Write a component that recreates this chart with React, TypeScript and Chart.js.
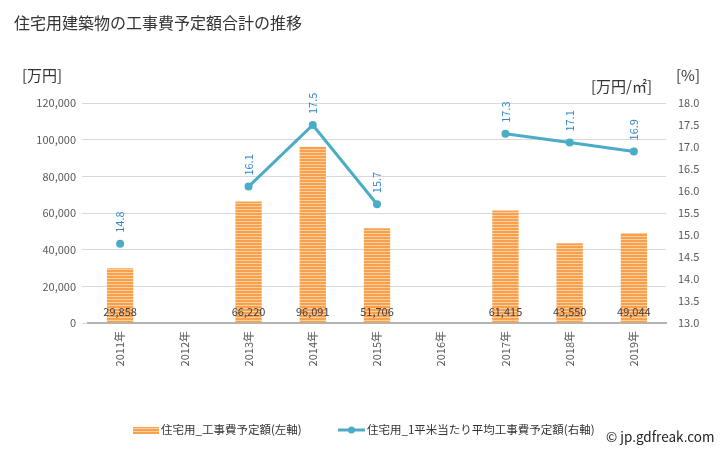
import React, { useEffect, useRef } from "react";
import { Chart, registerables } from "chart.js";

Chart.register(...registerables);

const categories = ["2011年", "2012年", "2013年", "2014年", "2015年", "2016年", "2017年", "2018年", "2019年"];
const costValues: (number | null)[] = [29858, null, 66220, 96091, 51706, null, 61415, 43550, 49044];
const perSqmValues: (number | null)[] = [14.8, null, 16.1, 17.5, 15.7, null, 17.3, 17.1, 16.9];
const leftTicks = [0, 20000, 40000, 60000, 80000, 100000, 120000];
const rightTicks = [13.0, 13.5, 14.0, 14.5, 15.0, 15.5, 16.0, 16.5, 17.0, 17.5, 18.0];

const titleText = "住宅用建築物の工事費予定額合計の推移";
const leftUnit = "[万円]";
const rightUnit1 = "[万円/㎡]";
const rightUnit2 = "[%]";
const barLegend = "住宅用_工事費予定額(左軸)";
const lineLegend = "住宅用_1平米当たり平均工事費予定額(右軸)";
const credit = "© jp.gdfreak.com";

const FONT = '"Noto Sans CJK JP", "Noto Sans", sans-serif';
const LINE_COLOR = "#4bacc6";
const LABEL_BLUE = "#2e86c8";

function makeStripe(): CanvasPattern | string {
  const c = document.createElement("canvas");
  c.width = 4;
  c.height = 3;
  const g = c.getContext("2d");
  if (!g) return "#f79646";
  g.fillStyle = "#f9a04e";
  g.fillRect(0, 0, 4, 2);
  g.fillStyle = "#fdd0a0";
  g.fillRect(0, 2, 4, 1);
  const p = g.createPattern(c, "repeat");
  return p || "#f79646";
}

export default function App() {
  const ref = useRef<HTMLCanvasElement | null>(null);

  useEffect(() => {
    if (!ref.current) return;
    const stripe = makeStripe();

    const decor = {
      id: "decor",
      afterDatasetsDraw(chart: any) {
        const ctx = chart.ctx as CanvasRenderingContext2D;
        const x = chart.scales.x;
        const yL = chart.scales.yL;
        const yR = chart.scales.yR;
        ctx.save();
        ctx.font = `11px ${FONT}`;
        ctx.fillStyle = "#404040";
        ctx.textAlign = "center";
        ctx.textBaseline = "middle";
        costValues.forEach((v, i) => {
          if (v == null) return;
          const px = x.getPixelForValue(i);
          ctx.fillText(v.toLocaleString("en-US"), px, yL.getPixelForValue(0) - 11);
        });
        ctx.fillStyle = LABEL_BLUE;
        ctx.font = `11px ${FONT}`;
        perSqmValues.forEach((v, i) => {
          if (v == null) return;
          const px = x.getPixelForValue(i);
          const py = yR.getPixelForValue(v);
          ctx.save();
          ctx.translate(px, py - 11);
          ctx.rotate(-Math.PI / 2);
          ctx.textAlign = "left";
          ctx.textBaseline = "middle";
          ctx.fillText(v.toFixed(1), 0, 0);
          ctx.restore();
        });
        ctx.restore();
      },
      afterDraw(chart: any) {
        const ctx = chart.ctx as CanvasRenderingContext2D;
        ctx.save();
        ctx.fillStyle = "#333333";
        ctx.textBaseline = "middle";
        ctx.textAlign = "left";
        ctx.font = `16px ${FONT}`;
        ctx.fillText(titleText, 14, 23);
        ctx.font = `15px ${FONT}`;
        ctx.fillText(leftUnit, 22, 75);
        ctx.fillText(rightUnit1, 591, 86);
        ctx.fillText(rightUnit2, 676, 75);
        // legend
        const ly = 430;
        ctx.fillStyle = stripe as any;
        ctx.fillRect(133, ly - 3, 26, 7);
        ctx.font = `11.5px ${FONT}`;
        ctx.fillStyle = "#333333";
        ctx.fillText(barLegend, 161, ly);
        ctx.strokeStyle = LINE_COLOR;
        ctx.lineWidth = 3;
        ctx.beginPath();
        ctx.moveTo(338, ly);
        ctx.lineTo(365, ly);
        ctx.stroke();
        ctx.fillStyle = LINE_COLOR;
        ctx.beginPath();
        ctx.arc(351.5, ly, 3.5, 0, Math.PI * 2);
        ctx.fill();
        ctx.fillStyle = "#333333";
        ctx.fillText(lineLegend, 367, ly);
        ctx.font = `13.5px ${FONT}`;
        ctx.fillStyle = "#222222";
        ctx.fillText(credit, 606, 437);
        ctx.restore();
      },
    };

    const chart = new Chart(ref.current, {
      type: "bar",
      data: {
        labels: categories,
        datasets: [
          {
            type: "line",
            label: lineLegend,
            data: perSqmValues,
            yAxisID: "yR",
            borderColor: LINE_COLOR,
            backgroundColor: LINE_COLOR,
            borderWidth: 3,
            pointRadius: 4,
            pointHoverRadius: 4,
            pointBackgroundColor: LINE_COLOR,
            pointBorderWidth: 0,
            spanGaps: false,
            tension: 0,
            order: 0,
          } as any,
          {
            type: "bar",
            label: barLegend,
            data: costValues,
            yAxisID: "yL",
            backgroundColor: stripe as any,
            borderWidth: 0,
            barPercentage: 0.41,
            categoryPercentage: 1,
            order: 1,
          } as any,
        ],
      },
      options: {
        animation: false,
        responsive: false,
        maintainAspectRatio: false,
        layout: { padding: { top: 103, left: 0, right: 0, bottom: 0 } },
        plugins: {
          legend: { display: false },
          title: { display: false },
          tooltip: { enabled: false },
        },
        scales: {
          x: {
            grid: { display: false, drawTicks: false },
            border: { display: true, color: "#b3b3b3", width: 2 },
            ticks: {
              color: "#595959",
              font: { size: 11, family: FONT },
              maxRotation: 90,
              minRotation: 90,
              padding: 8,
              autoSkip: false,
            },
            afterFit(s: any) {
              s.height = 127;
            },
          },
          yL: {
            position: "left",
            min: 0,
            max: 120000,
            afterBuildTicks(s: any) {
              s.ticks = leftTicks.map((v) => ({ value: v }));
            },
            grid: {
              color: "#d9d9d9",
              drawTicks: true,
              tickLength: 6,
              tickColor: "#d9d9d9",
            },
            border: { display: false },
            ticks: {
              color: "#595959",
              font: { size: 11, family: FONT },
              padding: 6,
              callback: (v: any) => Number(v).toLocaleString("en-US"),
            },
            afterFit(s: any) {
              s.width = 88;
            },
          },
          yR: {
            position: "right",
            min: 13,
            max: 18,
            afterBuildTicks(s: any) {
              s.ticks = rightTicks.map((v) => ({ value: v }));
            },
            grid: { display: false, drawTicks: false },
            border: { display: false },
            ticks: {
              color: "#595959",
              font: { size: 11, family: FONT },
              padding: 12,
              callback: (v: any) => Number(v).toFixed(1),
            },
            afterFit(s: any) {
              s.width = 62;
            },
          },
        },
      },
      plugins: [decor],
    });
    return () => chart.destroy();
  }, []);

  return (
    <div style={{ position: "fixed", left: 0, top: 0, width: 728, height: 450, background: "#fff" }}>
      <canvas ref={ref} width={728} height={450} style={{ width: 728, height: 450 }} />
    </div>
  );
}
